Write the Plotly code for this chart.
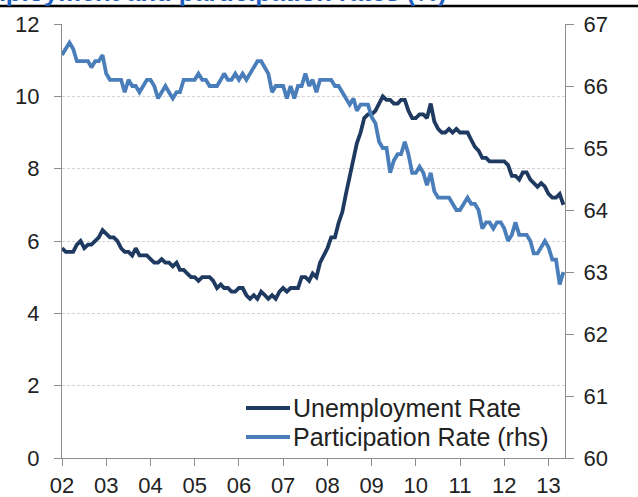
import pandas as pd
import plotly.graph_objects as go

# Monthly data, Jul 2002 - Nov 2013
start_month = "2002-07-01"
unemployment = [
    5.8, 5.7, 5.7, 5.7, 5.9, 6.0,
    5.8, 5.9, 5.9, 6.0, 6.1, 6.3, 6.2, 6.1, 6.1, 6.0, 5.8, 5.7,
    5.7, 5.6, 5.8, 5.6, 5.6, 5.6, 5.5, 5.4, 5.4, 5.5, 5.4, 5.4,
    5.3, 5.4, 5.2, 5.2, 5.1, 5.0, 5.0, 4.9, 5.0, 5.0, 5.0, 4.9,
    4.7, 4.8, 4.7, 4.7, 4.6, 4.6, 4.7, 4.7, 4.5, 4.4, 4.5, 4.4,
    4.6, 4.5, 4.4, 4.5, 4.4, 4.6, 4.7, 4.6, 4.7, 4.7, 4.7, 5.0,
    5.0, 4.9, 5.1, 5.0, 5.4, 5.6, 5.8, 6.1, 6.1, 6.5, 6.8, 7.3,
    7.8, 8.3, 8.7, 9.0, 9.4, 9.5, 9.5, 9.6, 9.8, 10.0, 9.9, 9.9,
    9.8, 9.8, 9.9, 9.9, 9.6, 9.4, 9.4, 9.5, 9.5, 9.4, 9.8, 9.3,
    9.1, 9.0, 9.0, 9.1, 9.0, 9.1, 9.0, 9.0, 9.0, 8.8, 8.6, 8.5,
    8.3, 8.3, 8.2, 8.2, 8.2, 8.2, 8.2, 8.1, 7.8, 7.8, 7.7, 7.9,
    7.9, 7.7, 7.6, 7.5, 7.6, 7.5, 7.3, 7.2, 7.2, 7.3, 7.0,
]
participation = [
    66.5, 66.6, 66.7, 66.6, 66.4, 66.4,
    66.4, 66.4, 66.3, 66.4, 66.4, 66.5, 66.2, 66.1, 66.1, 66.1, 66.1, 65.9,
    66.1, 66.0, 66.0, 65.9, 66.0, 66.1, 66.1, 66.0, 65.8, 65.9, 66.0, 65.9,
    65.8, 65.9, 65.9, 66.1, 66.1, 66.1, 66.1, 66.2, 66.1, 66.1, 66.0, 66.0,
    66.0, 66.1, 66.2, 66.1, 66.1, 66.2, 66.1, 66.2, 66.1, 66.2, 66.3, 66.4,
    66.4, 66.3, 66.2, 65.9, 66.0, 66.0, 66.0, 65.8, 66.0, 65.8, 66.0, 66.0,
    66.2, 66.0, 66.1, 65.9, 66.1, 66.1, 66.1, 66.1, 66.0, 66.0, 65.9, 65.8,
    65.7, 65.8, 65.6, 65.7, 65.7, 65.7, 65.5, 65.4, 65.1, 65.0, 65.0, 64.6,
    64.8, 64.9, 64.9, 65.1, 64.9, 64.6, 64.6, 64.7, 64.6, 64.4, 64.6, 64.3,
    64.2, 64.2, 64.2, 64.2, 64.1, 64.0, 64.0, 64.1, 64.2, 64.1, 64.1, 64.0,
    63.7, 63.8, 63.8, 63.7, 63.8, 63.8, 63.7, 63.5, 63.6, 63.8, 63.6, 63.6,
    63.6, 63.5, 63.3, 63.3, 63.4, 63.5, 63.4, 63.2, 63.2, 62.8, 63.0,
]
dates = pd.date_range(start_month, periods=len(unemployment), freq="MS")

title_text = "Unemployment and participation rates (%)"
series_names = ["Unemployment Rate", "Participation Rate (rhs)"]
dark = "#1F3A60"
light = "#4A7EBB"
font_family = "Liberation Sans, Arial, sans-serif"
text_color = "#222222"

fig = go.Figure()
fig.add_trace(go.Scatter(x=dates, y=unemployment, name=series_names[0],
                         mode="lines", line=dict(color=dark, width=3.8), yaxis="y"))
fig.add_trace(go.Scatter(x=dates, y=participation, name=series_names[1],
                         mode="lines", line=dict(color=light, width=3.8), yaxis="y2"))

W, H = 638, 497
L, R, T, B = 62, 73, 24, 39
pw, ph = W - L - R, H - T - B

def px_x(p):
    return (p - L) / pw

def px_y(p):
    return (H - B - p) / ph

axis_grey = "#8C8C8C"
fig.update_layout(
    width=W, height=H,
    margin=dict(l=L, r=R, t=T, b=B, autoexpand=False),
    paper_bgcolor="white", plot_bgcolor="white",
    font=dict(family=font_family, size=22, color=text_color),
    showlegend=False,
    xaxis=dict(
        type="date",
        range=["2002-07-01", "2013-11-14"],
        tick0="2002-07-01", dtick="M12", tickformat="%y",
        showline=True, linecolor=axis_grey, linewidth=1.3,
        ticks="outside", ticklen=7, tickcolor=axis_grey, tickwidth=1.3,
        showgrid=False, zeroline=False, ticklabelstandoff=0,
        tickfont=dict(size=22, color=text_color),
    ),
    yaxis=dict(
        range=[0, 12], dtick=2, tick0=0,
        showline=True, linecolor=axis_grey, linewidth=1.3,
        ticks="outside", ticklen=7, tickcolor=axis_grey, tickwidth=1.3,
        showgrid=True, gridcolor="#D4D4D4", gridwidth=1, griddash="3px,2px",
        zeroline=False, ticklabelstandoff=10,
        tickfont=dict(size=22, color=text_color),
    ),
    yaxis2=dict(
        range=[60, 67], dtick=1, tick0=60,
        overlaying="y", side="right",
        showline=True, linecolor=axis_grey, linewidth=1.3,
        ticks="outside", ticklen=8, tickcolor=axis_grey, tickwidth=1.3,
        showgrid=False, zeroline=False, ticklabelstandoff=5,
        tickfont=dict(size=22, color=text_color),
    ),
)

# header rule and (cropped) title
fig.add_shape(type="line", xref="paper", yref="paper",
              x0=px_x(0), x1=px_x(W), y0=px_y(6), y1=px_y(6),
              line=dict(color="black", width=2.5))
fig.add_annotation(text="<b>" + title_text + "</b>", xref="paper", yref="paper",
                   x=px_x(449), y=px_y(8), xanchor="right", yanchor="bottom",
                   showarrow=False, font=dict(size=25.5, color="#1F5FBF"))

# legend (line sample + label)
for name, color, ypix in [(series_names[0], dark, 408), (series_names[1], light, 437)]:
    fig.add_shape(type="line", xref="paper", yref="paper",
                  x0=px_x(246), x1=px_x(290), y0=px_y(ypix), y1=px_y(ypix),
                  line=dict(color=color, width=4))
    fig.add_annotation(text=name, xref="paper", yref="paper",
                       x=px_x(291), y=px_y(ypix), xanchor="left", yanchor="middle",
                       showarrow=False, font=dict(size=25, color=text_color))

fig.write_html("out.html", config={"displayModeBar": False},
               post_script="document.body.style.margin='0';document.body.style.overflow='hidden';")
